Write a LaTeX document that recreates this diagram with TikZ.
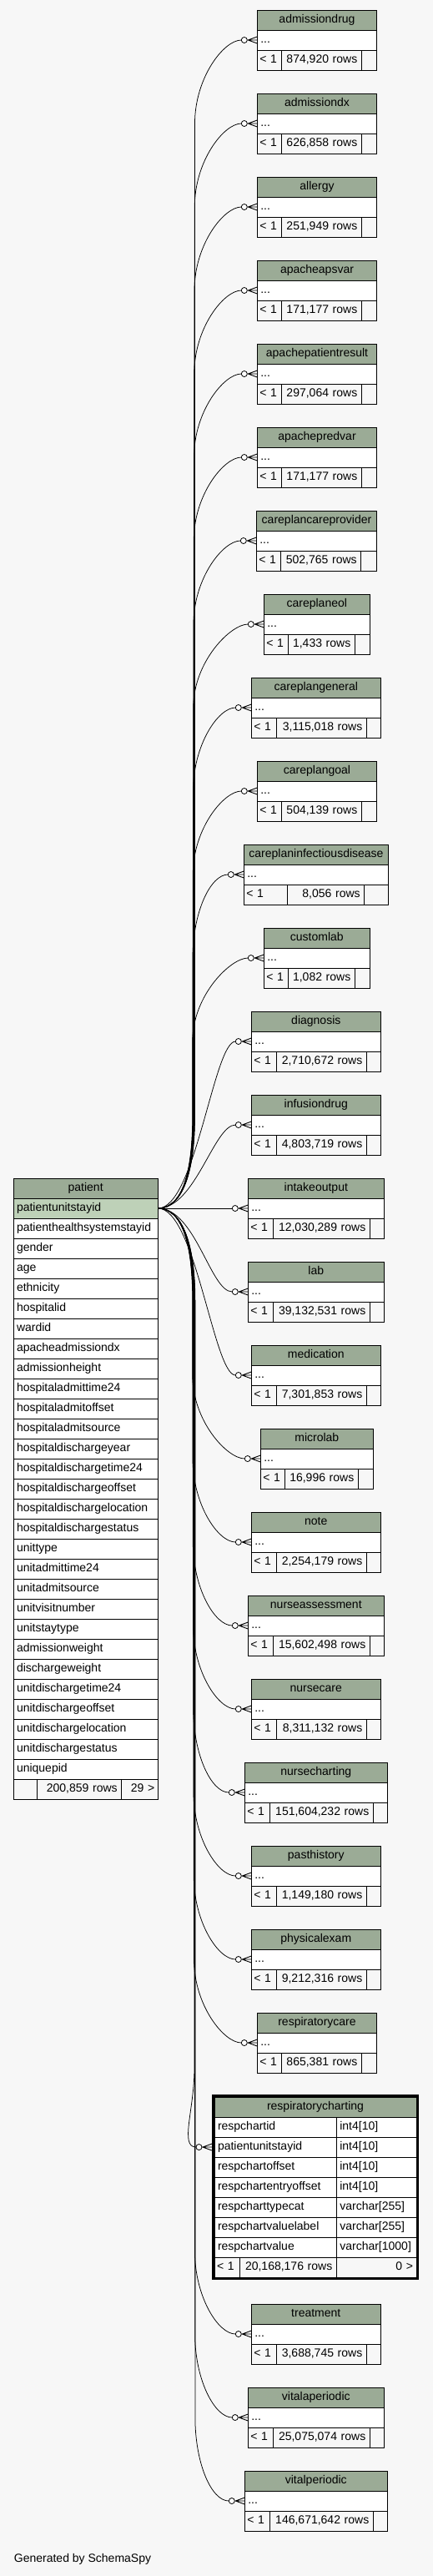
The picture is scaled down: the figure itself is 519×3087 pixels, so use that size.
\documentclass[tikz,border=0pt]{standalone}
\usepackage{fontspec}
\setmainfont{Liberation Sans}
\usetikzlibrary{positioning,calc}
\definecolor{hdrgreen}{HTML}{9BAB96}
\definecolor{keygreen}{HTML}{BED1B8}
\definecolor{pagebg}{HTML}{F7F7F7}

\begin{document}
\begin{tikzpicture}[x=1pt,y=-1pt,font=\fontsize{14}{16}\selectfont,node distance=0pt,
  tcell/.style={draw,line width=1pt,outer sep=0pt,inner ysep=0pt,minimum height=24pt,text height=10pt,text depth=3.5pt},
  hdr/.style={tcell,fill=hdrgreen,inner xsep=0pt,anchor=north west},
  colrow/.style={tcell,fill=white,inner xsep=4pt,align=left},
  footcell/.style={tcell,fill=pagebg},
  fk/.style={line width=0.75pt},
  crowodot/.pic={
    \draw[fill=white,line width=0.8pt] (-15.5,0) circle (3.5);
    \draw[line width=0.9pt] (-12,0) -- (0,0) (-11,0) -- (0,-4) (-11,0) -- (0,4);
  }]
  \path[fill=pagebg,use as bounding box] (0,0) rectangle (519,3087);

  % patient
  \node[hdr,minimum width=173.3pt] (patient) at (16,1412) {patient};
  \node[colrow,fill=keygreen,text width=165.3pt,below=of patient] (p-patientunitstayid) {patientunitstayid};
  \foreach \col [remember=\col as \prev (initially patientunitstayid)] in {patienthealthsystemstayid,gender,age,ethnicity,hospitalid,wardid,apacheadmissiondx,admissionheight,hospitaladmittime24,hospitaladmitoffset,hospitaladmitsource,hospitaldischargeyear,hospitaldischargetime24,hospitaldischargeoffset,hospitaldischargelocation,hospitaldischargestatus,unittype,unitadmittime24,unitadmitsource,unitvisitnumber,unitstaytype,admissionweight,dischargeweight,unitdischargetime24,unitdischargeoffset,unitdischargelocation,unitdischargestatus,uniquepid}
    \node[colrow,text width=165.3pt,below=of p-\prev] (p-\col) {\col};
  \node[footcell,minimum width=28.3pt,anchor=north west] (p-min) at (p-uniquepid.south west) {};
  \node[footcell,text width=91.4pt,inner xsep=5pt,align=right,right=of p-min] (p-rows) {200,859 rows};
  \node[footcell,text width=35.6pt,inner xsep=4pt,align=right,right=of p-rows] (p-kids) {29 >};

  % child tables
  \foreach \tname/\ty/\xl/\xa/\xb/\xr/\nrows in {
    admissiondrug/12/308.3/337.3/433.3/451.7/{874,920},
    admissiondx/112/308.3/337.3/433.3/451.7/{626,858},
    allergy/212/308.3/337.3/433.3/451.7/{251,949},
    apacheapsvar/312/308.3/337.3/433.3/451.7/{171,177},
    apachepatientresult/412/308.3/337.3/433.3/451.7/{297,064},
    apachepredvar/512/308.3/337.3/433.3/451.7/{171,177},
    careplancareprovider/612/307.3/336.3/432.7/451.7/{502,765},
    careplaneol/712/316.3/345.3/425.3/443.3/{1,433},
    careplangeneral/812/301.3/331.3/439.3/456.3/{3,115,018},
    careplangoal/912/308.3/337.3/433.3/451.7/{504,139},
    careplaninfectiousdisease/1012/292.3/344.7/436.7/465.7/{8,056},
    customlab/1112/316.3/345.3/425.3/443.3/{1,082},
    diagnosis/1212/301.3/331.3/439.3/456.3/{2,710,672},
    infusiondrug/1312/301.3/331.3/439.3/456.3/{4,803,719},
    intakeoutput/1412/297.3/327.3/443.3/460.3/{12,030,289},
    lab/1512/297.3/327.3/443.3/460.3/{39,132,531},
    medication/1612/301.3/331.3/439.3/456.3/{7,301,853},
    microlab/1712/312.3/341.3/429.3/447.3/{16,996},
    note/1812/301.3/331.3/439.3/456.3/{2,254,179},
    nurseassessment/1912/297.3/327.3/443.3/460.3/{15,602,498},
    nursecare/2012/301.3/331.3/439.3/456.3/{8,311,132},
    nursecharting/2112/293.3/323.3/447.3/464.3/{151,604,232},
    pasthistory/2212/301.3/331.3/439.3/456.3/{1,149,180},
    physicalexam/2312/301.3/331.3/439.3/456.3/{9,212,316},
    respiratorycare/2412/308.3/337.3/433.3/451.7/{865,381},
    treatment/2761/301.3/331.3/439.3/456.3/{3,688,745},
    vitalaperiodic/2861/297.3/327.3/443.3/460.3/{25,075,074},
    vitalperiodic/2961/293.3/323.3/447.3/464.3/{146,671,642}}{
    \pgfmathsetmacro\wt{\xr-\xl}
    \pgfmathsetmacro\wtx{\xr-\xl-8}
    \pgfmathsetmacro\wa{\xa-\xl-6}
    \pgfmathsetmacro\wb{\xb-\xa-10}
    \pgfmathsetmacro\wc{\xr-\xb}
    \node[hdr,minimum width=\wt pt] (\tname) at (\xl,\ty) {\tname};
    \node[colrow,text width=\wtx pt,below=of \tname] (\tname-dots) {...};
    \node[footcell,text width=\wa pt,inner xsep=3pt,align=left,anchor=north west] (\tname-min) at (\tname-dots.south west) {< 1};
    \node[footcell,text width=\wb pt,inner xsep=5pt,align=right,right=of \tname-min] (\tname-rows) {\nrows\ rows};
    \node[footcell,minimum width=\wc pt,right=of \tname-rows] (\tname-kids) {};
    % connector
    \pgfmathsetmacro\sg{ifthenelse(\ty<1412,-1,1)}
    \pgfmathtruncatemacro\near{abs(\ty-1412)<=200}
    \pgfmathsetmacro\tx{230+abs(\ty-1412)/400}
    \pgfmathsetmacro\ya{1448+\sg*45}
    \pgfmathsetmacro\yb{1448+\sg*110}
    \pgfmathsetmacro\yc{\ty+36-\sg*100}
    \pgfmathsetmacro\yd{\ty+36-\sg*45}
    \ifnum\near=1
      \draw[fk] (p-patientunitstayid.east) .. controls +(45,0) and ([xshift=-45pt]\tname-dots.west) .. ([xshift=-19pt]\tname-dots.west);
    \else
      \draw[fk] (p-patientunitstayid.east) .. controls +(30,0) and (\tx,\ya) .. (\tx,\yb) -- (\tx,\yc) .. controls (\tx,\yd) and ([xshift=-40pt]\tname-dots.west) .. ([xshift=-19pt]\tname-dots.west);
    \fi
    \pic at (\tname-dots.west) {crowodot};
  }

  % respiratorycharting
  \node[hdr,minimum width=242pt] (respiratorycharting) at (257,2513) {respiratorycharting};
  \foreach \cname/\ctype [count=\k] in {respchartid/int4[10],patientunitstayid/int4[10],respchartoffset/int4[10],respchartentryoffset/int4[10],respcharttypecat/varchar[255],respchartvaluelabel/varchar[255],respchartvalue/varchar[1000]}{
    \node[colrow,text width=138.3pt,anchor=north west] (rc-\cname) at (257,{2513+24*\k}) {\cname};
    \node[colrow,text width=87.7pt,right=of rc-\cname] (rc-\cname-type) {\ctype};
  }
  \node[footcell,text width=24.3pt,inner xsep=3pt,align=left,anchor=north west] (rc-min) at (rc-respchartvalue.south west) {< 1};
  \node[footcell,text width=106pt,inner xsep=5pt,align=right,right=of rc-min] (rc-rows) {20,168,176 rows};
  \node[footcell,text width=87.7pt,inner xsep=4pt,align=right,right=of rc-rows] (rc-kids) {0 >};
  \draw[line width=3pt] (255.5,2511.5) rectangle (500.5,2730.5);
  \draw[fk] (p-patientunitstayid.east) .. controls +(30,0) and (233,1493) .. (233,1558) -- (233,2478) .. controls (233,2528) and ([xshift=-42pt]rc-patientunitstayid.west) .. ([xshift=-22pt]rc-patientunitstayid.west);
  \pic at ([xshift=-3pt]rc-patientunitstayid.west) {crowodot};

  \node[anchor=west,inner sep=0pt] (credit) at (16.7,3067) {Generated by SchemaSpy};
\end{tikzpicture}
\end{document}
